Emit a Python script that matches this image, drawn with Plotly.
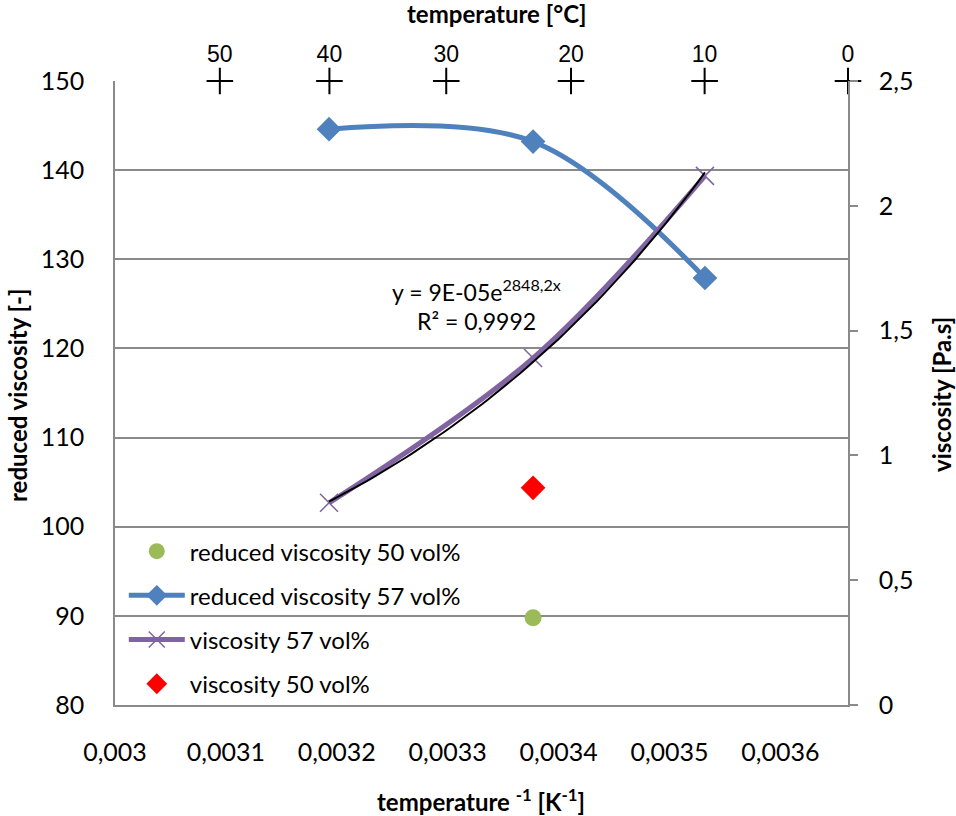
import numpy as np
import plotly.graph_objects as go

# ---- data ----
inv_T = [0.003193, 0.003377, 0.003532]          # 1/K  (40, 23, 10 °C)
red_visc_57 = [144.6, 143.2, 127.9]             # reduced viscosity 57 vol%
visc_57 = [0.81, 1.39, 2.12]                    # Pa.s, viscosity 57 vol%
inv_T_50 = [0.003377]
red_visc_50 = [89.8]                            # reduced viscosity 50 vol%
visc_50 = [0.87]                                # Pa.s, viscosity 50 vol%
top_temps_C = [50, 40, 30, 20, 10, 0]           # top axis labels (°C)
x_ticks = [0.003, 0.0031, 0.0032, 0.0033, 0.0034, 0.0035, 0.0036]
y_left_ticks = [80, 90, 100, 110, 120, 130, 140, 150]
y_right_ticks = [0, 0.5, 1, 1.5, 2, 2.5]

top_pos = [1.0 / (t + 273.15) for t in top_temps_C]
x_max = 1.0 / 273.15

# exponential trendline fitted to the viscosity 57 vol% points (as Excel does)
b, ln_a = np.polyfit(np.array(inv_T), np.log(np.array(visc_57)), 1)
x_fit = np.linspace(min(inv_T), max(inv_T), 60)
y_fit = np.exp(ln_a) * np.exp(b * x_fit)

BLUE = "#4F81BD"
PURPLE = "#8064A2"
GREEN = "#9BBB59"
RED = "#FF0000"
GRID = "#8a8a8a"
FONT = "Lato"
TICK_SIZE = 24
TITLE_SIZE = 24

fig = go.Figure()

fig.add_trace(go.Scatter(
    x=inv_T_50, y=red_visc_50, mode="markers", name="reduced viscosity 50 vol%",
    marker=dict(symbol="circle", size=17, color=GREEN),
    legendgroup="g1", xaxis="x", yaxis="y"))

fig.add_trace(go.Scatter(
    x=inv_T, y=red_visc_57, mode="lines+markers", name="reduced viscosity 57 vol%",
    line=dict(color=BLUE, width=5, shape="spline", smoothing=1.0),
    marker=dict(symbol="diamond", size=19, color=BLUE),
    legendgroup="g2", xaxis="x", yaxis="y"))

fig.add_trace(go.Scatter(
    x=inv_T, y=visc_57, mode="lines+markers", name="viscosity 57 vol%",
    line=dict(color=PURPLE, width=5, shape="spline", smoothing=1.0),
    marker=dict(symbol="x-thin", size=18, color=PURPLE,
                line=dict(color=PURPLE, width=1.5)),
    legendgroup="g3", xaxis="x", yaxis="y2"))

fig.add_trace(go.Scatter(
    x=x_fit, y=y_fit, mode="lines", name="trend", showlegend=False,
    line=dict(color="black", width=2), xaxis="x", yaxis="y2", hoverinfo="skip"))

fig.add_trace(go.Scatter(
    x=inv_T_50, y=visc_50, mode="markers", name="viscosity 50 vol%",
    marker=dict(symbol="diamond", size=19, color=RED),
    legendgroup="g4", xaxis="x", yaxis="y2"))

# top temperature "+" markers
fig.add_trace(go.Scatter(
    x=top_pos, y=[150] * len(top_pos), mode="markers", showlegend=False,
    marker=dict(symbol="cross-thin", size=19, color="black",
                line=dict(color="black", width=2)),
    cliponaxis=False, xaxis="x2", yaxis="y", hoverinfo="skip"))

fig.update_layout(
    width=956, height=816,
    margin=dict(l=115, r=108, t=81, b=111),
    paper_bgcolor="white", plot_bgcolor="white",
    separators=", ",
    font=dict(family=FONT, size=TICK_SIZE, color="black"),
    showlegend=True,
    legend=dict(x=0.012, y=0.282, xanchor="left", yanchor="top",
                bgcolor="rgba(0,0,0,0)", tracegroupgap=10,
                font=dict(family=FONT, size=TICK_SIZE, color="black"),
                itemwidth=56),
    xaxis=dict(range=[0.003, x_max], tickvals=x_ticks, tickformat=".4~f",
               showgrid=False, zeroline=False, showline=True, linecolor=GRID,
               linewidth=1.5, ticks="", ticklabelstandoff=24,
               tickfont=dict(family=FONT, size=25)),
    xaxis2=dict(range=[0.003, x_max], overlaying="x", side="top",
                tickvals=top_pos, ticktext=[str(t) for t in top_temps_C],
                showgrid=False, zeroline=False, showline=False, ticks="",
                ticklabelstandoff=13,
                tickfont=dict(family="Liberation Sans", size=23)),
    yaxis=dict(range=[80, 150], tickvals=y_left_ticks, showgrid=True,
               gridcolor=GRID, gridwidth=1.5, zeroline=False, showline=True,
               linecolor=GRID, linewidth=1.5, ticks="", ticklabelstandoff=24,
               tickfont=dict(family=FONT, size=25)),
    yaxis2=dict(range=[0, 2.5], tickvals=y_right_ticks, tickformat=".1~f",
                overlaying="y", side="right", showgrid=False, zeroline=False,
                showline=True, linecolor=GRID, linewidth=1.5, ticks="outside",
                ticklen=8, tickcolor=GRID, tickwidth=1.5, ticklabelstandoff=16,
                tickfont=dict(family=FONT, size=25)),
)

fig.add_annotation(text="<b>temperature [°C]</b>", xref="paper", yref="paper",
                   x=(497 - 115) / 733, y=(705 - 14) / 624, xanchor="center",
                   yanchor="middle", showarrow=False,
                   font=dict(family=FONT, size=TITLE_SIZE))
fig.add_annotation(text="<b>temperature <sup>-1</sup> [K<sup>-1</sup>]</b>",
                   xref="paper", yref="paper",
                   x=(481 - 115) / 733, y=(705 - 800) / 624, xanchor="center",
                   yanchor="middle", showarrow=False,
                   font=dict(family=FONT, size=TITLE_SIZE))
fig.add_annotation(text="<b>reduced viscosity [-]</b>", xref="paper", yref="paper",
                   x=(17 - 115) / 733, y=(705 - 395) / 624, xanchor="center",
                   yanchor="middle", showarrow=False, textangle=-90,
                   font=dict(family=FONT, size=TITLE_SIZE))
fig.add_annotation(text="<b>viscosity [Pa.s]</b>", xref="paper", yref="paper",
                   x=(941 - 115) / 733, y=(705 - 395) / 624, xanchor="center",
                   yanchor="middle", showarrow=False, textangle=-90,
                   font=dict(family=FONT, size=TITLE_SIZE))

eq_x = 0.003 + (476 - 115) / 733 * (x_max - 0.003)
fig.add_annotation(text="y = 9E-05e<sup>2848,2x</sup>", x=eq_x, y=80 + (705 - 290) / 624 * 70,
                   xref="x", yref="y", showarrow=False, xanchor="center",
                   yanchor="middle", font=dict(family=FONT, size=23))
fig.add_annotation(text="R² = 0,9992", x=eq_x, y=80 + (705 - 321) / 624 * 70,
                   xref="x", yref="y", showarrow=False, xanchor="center",
                   yanchor="middle", font=dict(family=FONT, size=23))

fig.write_html("out.html")
